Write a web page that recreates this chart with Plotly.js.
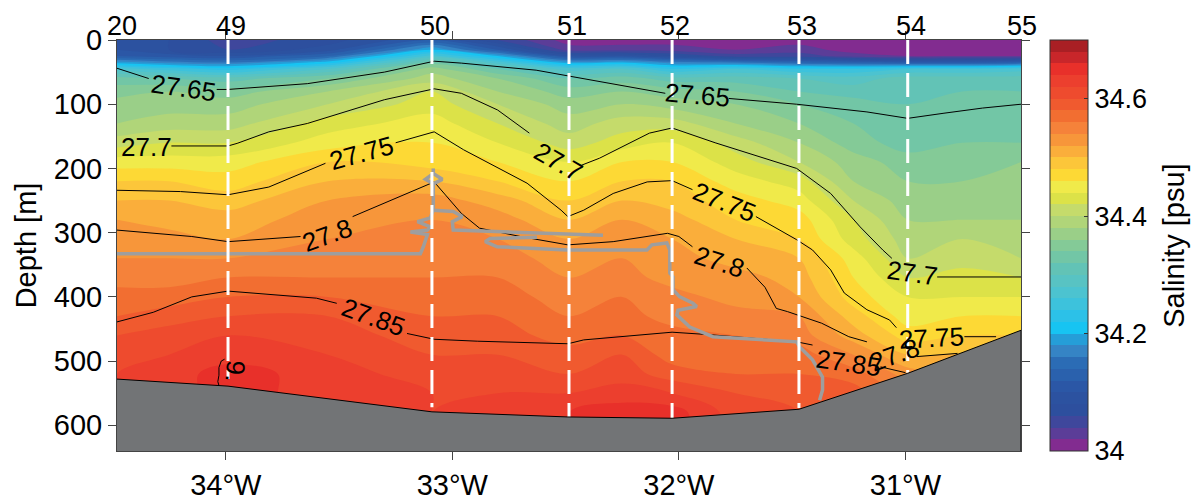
<!DOCTYPE html>
<html><head><meta charset="utf-8">
<script src="https://cdn.plot.ly/plotly-3.0.1.min.js"></script>
<style>html,body{margin:0;padding:0;background:#fff}#chart{width:1200px;height:501px}</style>
</head><body><div id="chart"></div>
<script>
// ---------- grid of the salinity section ----------
const gridLon = [-34.48, -34.25, -33.99, -33.55, -33.09, -32.8, -32.485, -32.25, -32.03, -31.75, -31.47, -31.23, -30.99, -30.75, -30.49];
const gridDepth = [0, 15, 25, 35, 45, 60, 80, 100, 130, 160, 190, 220, 250, 280, 310, 340, 370, 400, 430, 460, 490, 520, 550, 580, 640];

// salinity profiles (psu), one per longitude column, top to bottom
const sal_3448W = [34.10,34.10,34.12,34.19,34.27,34.33,34.35,34.37,34.38,34.41,34.45,34.48,34.50,34.52,34.53,34.54,34.55,34.57,34.58,34.60,34.61,34.62,34.62,34.62,34.62];
const sal_3425W = [34.08,34.08,34.11,34.17,34.25,34.32,34.36,34.37,34.39,34.42,34.45,34.48,34.50,34.51,34.53,34.54,34.55,34.57,34.59,34.61,34.62,34.63,34.63,34.63,34.63];
const sal_3399W = [34.05,34.06,34.10,34.16,34.23,34.31,34.35,34.37,34.39,34.42,34.45,34.47,34.49,34.51,34.52,34.54,34.56,34.58,34.60,34.62,34.63,34.65,34.65,34.65,34.65];
const sal_3355W = [34.07,34.09,34.14,34.21,34.28,34.34,34.38,34.40,34.43,34.45,34.48,34.50,34.52,34.53,34.54,34.55,34.56,34.58,34.60,34.61,34.62,34.63,34.63,34.63,34.63];
const sal_3309W = [34.12,34.20,34.27,34.33,34.37,34.39,34.42,34.43,34.45,34.46,34.47,34.50,34.53,34.54,34.55,34.55,34.56,34.57,34.58,34.59,34.60,34.61,34.62,34.62,34.62];
const sal_3280W = [34.06,34.12,34.20,34.27,34.32,34.36,34.38,34.40,34.42,34.44,34.46,34.48,34.51,34.53,34.54,34.55,34.56,34.57,34.58,34.59,34.60,34.61,34.62,34.63,34.63];
const sal_3249W = [34.01,34.03,34.10,34.19,34.27,34.32,34.35,34.37,34.39,34.41,34.44,34.46,34.48,34.50,34.52,34.53,34.54,34.55,34.56,34.57,34.59,34.60,34.62,34.64,34.64];
const sal_3225W = [34.01,34.03,34.10,34.20,34.28,34.33,34.36,34.38,34.41,34.43,34.46,34.48,34.50,34.52,34.53,34.54,34.55,34.56,34.57,34.58,34.60,34.61,34.63,34.65,34.65];
const sal_3203W = [34.01,34.03,34.08,34.17,34.24,34.31,34.35,34.37,34.41,34.44,34.46,34.48,34.49,34.51,34.52,34.53,34.53,34.55,34.55,34.57,34.57,34.59,34.62,34.65,34.65];
const sal_3175W = [34.01,34.02,34.05,34.16,34.26,34.31,34.34,34.36,34.38,34.41,34.43,34.45,34.47,34.48,34.50,34.51,34.53,34.53,34.55,34.56,34.57,34.58,34.60,34.61,34.61];
const sal_3147W = [34.01,34.03,34.05,34.14,34.24,34.30,34.32,34.34,34.36,34.38,34.40,34.43,34.45,34.47,34.48,34.50,34.51,34.52,34.54,34.55,34.57,34.58,34.59,34.60,34.60];
const sal_3123W = [34.01,34.01,34.03,34.13,34.24,34.29,34.31,34.33,34.34,34.35,34.37,34.38,34.40,34.42,34.43,34.45,34.46,34.47,34.49,34.51,34.54,34.57,34.59,34.60,34.60];
const sal_3099W = [34.01,34.01,34.02,34.12,34.26,34.31,34.32,34.32,34.33,34.33,34.35,34.36,34.37,34.38,34.39,34.40,34.42,34.44,34.45,34.47,34.50,34.53,34.55,34.56,34.56];
const sal_3075W = [34.01,34.01,34.02,34.12,34.26,34.31,34.32,34.33,34.33,34.34,34.35,34.36,34.37,34.38,34.40,34.41,34.43,34.44,34.46,34.48,34.50,34.52,34.53,34.53,34.53];
const sal_3049W = [34.01,34.01,34.02,34.13,34.27,34.31,34.32,34.33,34.33,34.34,34.36,34.37,34.37,34.38,34.39,34.40,34.42,34.44,34.46,34.48,34.50,34.50,34.50,34.50,34.50];
const salColumns = [sal_3448W, sal_3425W, sal_3399W, sal_3355W, sal_3309W, sal_3280W, sal_3249W, sal_3225W, sal_3203W, sal_3175W, sal_3147W, sal_3123W, sal_3099W, sal_3075W, sal_3049W];

// ---------- colour bar ----------
const salinityLevels = [34.0, 34.7];
const bandColors = ['#822C90','#5B3D98','#3F479C','#2D4F9E','#2C52A0','#2B57A6','#2A61AD','#2B6CB5','#3584C5','#259ED8',
  '#17C4F2','#2CC1E8','#3DC2DC','#4CC3D0','#58C3C3','#62C3B6','#72C6A6','#84CA97','#9ACF88','#B0D579',
  '#C5DB6B','#DCE248','#F0EA4A','#FDD935','#FCC63A','#FAAE3B','#F7963A','#F5823A','#F26E31','#F05A2F',
  '#EE4B2E','#EC3F2E','#E8302A','#C8262A','#A91F24'];
const cbTicks = [34, 34.2, 34.4, 34.6];
const cbTickText = ['34', '34.2', '34.4', '34.6'];

// ---------- stations ----------
const stationNames = ['20', '49', '50', '51', '52', '53', '54', '55'];
const stationLon = [-34.47, -33.99, -33.09, -32.485, -32.03, -31.47, -30.99, -30.50];
const stationBottom = [null, 528, 572, 587, 589, 573, 518, null];

// ---------- bathymetry ----------
const bathyLon = [-34.48, -33.99, -33.09, -32.49, -32.03, -31.47, -30.99, -30.49];
const bathyDepth = [528, 539, 579, 587, 589, 575, 519, 452];

// ---------- isopycnals (sigma-theta) ----------
const iso2765Lon = [-34.48,-34.34,null,-34.04,-33.99,-33.64,-33.30,-33.08,-32.96,-32.63,-32.49,-32.34,-32.06,null,-31.78,-31.48,-31.17,-30.99,-30.83,-30.66,-30.49];
const iso2765Dep = [44,60,null,77,77,68,50,33,36,47,56,65,83,null,91,100,112,122,114,106,100];
const iso2770Lon = [-34.24,-33.99,-33.95,-33.81,-33.64,-33.47,-33.30,-33.08,-32.96,-32.80,-32.66,null,-32.43,-32.35,-32.13,-32.03,-31.84,-31.64,-31.48,-31.33,-31.20,-31.10,-31.06,null,-30.86,-30.49];
const iso2770Dep = [165,165,161,143,130,112,93,76,83,109,145,null,195,184,145,137,160,182,200,239,291,327,340,null,369,369];
const iso2775Lon = [-34.48,-34.2,-33.99,-33.81,-33.56,null,-33.25,-33.08,-32.95,-32.67,-32.52,-32.49,-32.42,-32.29,-32.14,-32.03,-31.94,null,-31.66,-31.48,-31.41,-31.33,-31.27,-31.17,-31.07,-31.04,null,-30.74,-30.60];
const iso2775Dep = [234,236,241,229,192,null,160,143,171,223,265,275,265,239,221,219,233,null,275,311,327,358,394,420,436,448,null,462,462];
const iso2780Lon = [-34.48,-34.15,-33.99,-33.81,-33.67,null,-33.44,-33.30,-33.08,-32.96,-32.88,-32.70,-32.49,-32.29,-32.05,-32.0,-31.94,null,-31.70,-31.62,-31.57,-31.52,-31.37,-31.25,-31.17,null,-30.95,-30.77];
const iso2780Dep = [296,306,314,309,306,null,275,254,221,270,293,306,319,314,301,306,322,null,355,385,418,423,441,462,470,null,493,488];
const iso2785Lon = [-34.48,-34.32,-34.15,-33.99,-33.6,-33.51,null,-33.20,-33.08,-32.89,-32.49,-32.42,-32.03,-31.86,-31.48,-31.41,null,-31.11,-31.0];
const iso2785Dep = [439,424,400,391,402,410,null,457,466,469,473,467,455,459,470,475,null,509,518];
const iso2790Lon = [-34.005,-34.02,-34.03,-34.03,-34.035,-34.03];
const iso2790Dep = [497,500,510,522,532,538];

// labels of the isopycnals
const isoLabelText  = ['27.65','27.7','27.75','27.8','27.7','27.65','27.75','27.85','27.8','27.7','27.75','27.8','27.85','9.'];
const isoLabelLon   = [-34.185,-34.35,-33.40,-33.55,-32.53,-31.92,-31.80,-33.35,-31.82,-30.97,-30.885,-31.05,-31.25,-33.96];
const isoLabelDepth = [75,167,176,304,190,86,252,431,346,363,464,490,503,516];
const isoLabelAngle = [8,0,-15,-20,30,5,22,20,18,8,-3,-20,8,95];

// grey water-mass boundary
const greyLon = [-34.48,-33.141,-33.128,-33.110,-33.185,-33.110,-33.097,-33.154,-33.097,-33.084,-33.084,-33.084,-33.119,-33.084,-33.044,-33.084,null,
  -33.084,-33.084,null,
  -33.084,-32.996,-32.956,-33.0,-32.996,-32.731,-32.335,null,
  -32.626,-32.833,-32.855,-32.802,-32.493,-32.141,-32.119,-32.053,-32.04,-32.04,-32.026,-32.026,-31.996,-31.938,-31.921,-32.004,-32.009,-31.952,-31.850,-31.480,-31.467,-31.410,-31.366,-31.366,-31.379];
const greyDep = [333,333,322,303,299,296,291,283,277,265,239,224,217,208,217,224,null,
  200,208,null,
  265,267,275,283,296,299,304,null,
  307,309,314,322,327,327,319,316,327,363,369,389,400,410,415,421,428,447,462,470,478,498,525,545,561];

// ---------- build ----------
const FONT = 'Liberation Sans, Arial, Helvetica, sans-serif';
const z = gridDepth.map((d, j) => salColumns.map(col => col[j]));
const nb = bandColors.length;
const stepScale = [];
bandColors.forEach((c, k) => { stepScale.push([k / nb, c]); stepScale.push([(k + 1) / nb, c]); });

const traces = [];
traces.push({
  type: 'contour', x: gridLon, y: gridDepth, z: z,
  colorscale: stepScale, showscale: false,
  contours: {start: 34.02, end: 34.68, size: 0.02, coloring: 'fill', showlines: false},
  line: {width: 0, smoothing: 1}, hoverinfo: 'skip'
});
// colour bar carrier
traces.push({
  type: 'scatter', mode: 'markers', x: [-32.5, -32.5], y: [-50, -50], cliponaxis: true,
  marker: {color: salinityLevels, cmin: salinityLevels[0], cmax: salinityLevels[1], colorscale: stepScale, size: 1, opacity: 0,
    showscale: true,
    colorbar: {x: 1.0321, xanchor: 'left', xpad: 0, y: 0.5, yanchor: 'middle', len: 1, lenmode: 'fraction', ypad: 0,
      thickness: 38, thicknessmode: 'pixels', outlinewidth: 1, outlinecolor: '#333',
      tickmode: 'array', tickvals: cbTicks, ticktext: cbTickText, ticks: 'inside', ticklen: 4, tickcolor: '#333',
      tickfont: {family: FONT, size: 27, color: '#000'}}},
  hoverinfo: 'skip', showlegend: false
});
const isoSets = [[iso2765Lon, iso2765Dep], [iso2770Lon, iso2770Dep], [iso2775Lon, iso2775Dep], [iso2780Lon, iso2780Dep], [iso2785Lon, iso2785Dep], [iso2790Lon, iso2790Dep]];
isoSets.forEach(s => traces.push({type: 'scatter', mode: 'lines', x: s[0], y: s[1], connectgaps: false,
  line: {color: '#000', width: 1}, hoverinfo: 'skip', showlegend: false}));
traces.push({type: 'scatter', mode: 'lines', x: greyLon, y: greyDep, connectgaps: false,
  line: {color: '#9E9E9E', width: 3.5}, hoverinfo: 'skip', showlegend: false});
stationLon.forEach((lon, i) => {
  if (stationBottom[i] === null) return;
  traces.push({type: 'scatter', mode: 'lines', x: [lon, lon], y: [0, stationBottom[i]],
    line: {color: '#fff', width: 3, dash: '24px,9px'}, hoverinfo: 'skip', showlegend: false});
});
traces.push({type: 'scatter', mode: 'lines',
  x: bathyLon.concat([bathyLon[bathyLon.length - 1], bathyLon[0]]),
  y: bathyDepth.concat([660, 660]), fill: 'toself', fillcolor: '#727476',
  line: {color: '#000', width: 1}, hoverinfo: 'skip', showlegend: false});

const annotations = [];
stationNames.forEach((n, i) => annotations.push({xref: 'x', yref: 'paper', x: stationLon[i], y: 1, yanchor: 'middle', yshift: 14, xshift: 3,
  text: n, showarrow: false, font: {family: FONT, size: 27, color: '#000'}}));
isoLabelText.forEach((t, i) => annotations.push({xref: 'x', yref: 'y', x: isoLabelLon[i], y: isoLabelDepth[i], text: t,
  textangle: isoLabelAngle[i], showarrow: false, font: {family: FONT, size: 26, color: '#000'}}));
// colour-bar title
annotations.push({xref: 'paper', yref: 'paper', x: 1.1685, y: 0.5, xanchor: 'center', yanchor: 'middle', textangle: -90,
  text: 'Salinity [psu]', showarrow: false, font: {family: FONT, size: 29, color: '#000'}});

const axisCommon = {showgrid: false, zeroline: false, showline: true, linecolor: '#444', linewidth: 1, mirror: 'ticks',
  ticks: 'outside', ticklen: 8, tickcolor: '#444', tickfont: {family: FONT, size: 29, color: '#000'}};
const layout = {
  width: 1200, height: 501, margin: {l: 117, r: 179, t: 40, b: 50},
  paper_bgcolor: '#fff', plot_bgcolor: '#fff', showlegend: false,
  font: {family: FONT, color: '#000'},
  xaxis: Object.assign({}, axisCommon, {range: [-34.48, -30.49], tickmode: 'array', tickvals: [-34, -33, -32, -31],
    ticktext: ['34°W', '33°W', '32°W', '31°W']}),
  yaxis: Object.assign({}, axisCommon, {range: [640, 0], tickmode: 'array', tickvals: [0, 100, 200, 300, 400, 500, 600],
    title: {text: 'Depth [m]', standoff: 8, font: {family: FONT, size: 29, color: '#000'}}}),
  annotations: annotations
};
Plotly.newPlot('chart', traces, layout, {staticPlot: true, displayModeBar: false});
</script></body></html>
